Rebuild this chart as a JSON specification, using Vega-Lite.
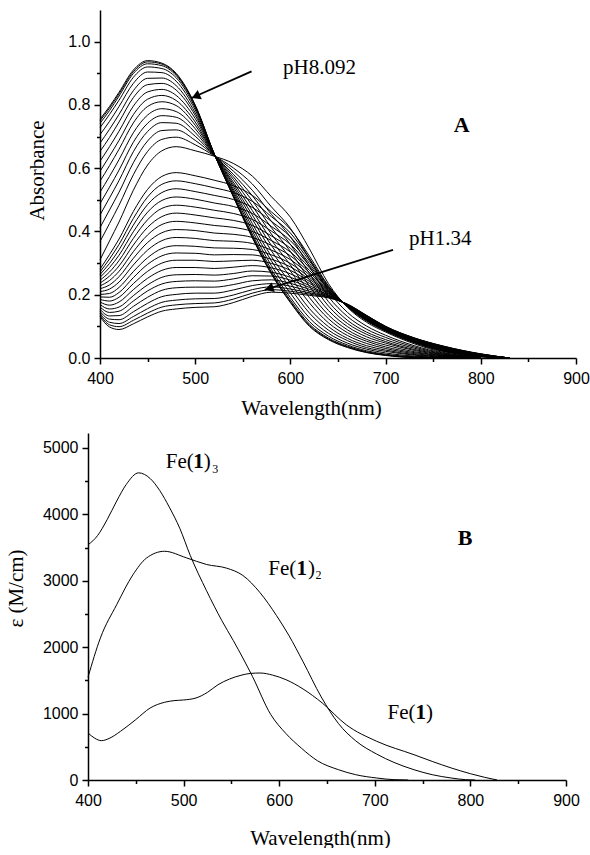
{
"$schema": "https://vega.github.io/schema/vega-lite/v6.json",
"background": "white",
"padding": {"left": 5, "top": 10, "right": 0, "bottom": 0},
"spacing": 15,
"config": {
  "view": {"stroke": null},
  "axis": {"domainColor": "black", "domainWidth": 1.5, "tickColor": "black", "tickWidth": 1.5, "labelFont": "Liberation Sans", "labelFontSize": 16, "labelColor": "black", "titleFont": "Liberation Serif", "titleFontSize": 21, "titleFontWeight": "normal", "titleColor": "black", "grid": false, "labelFlush": false, "labelOverlap": false, "labelPadding": 4},
  "text": {"font": "Liberation Serif", "fontSize": 21, "color": "black"}
},
"datasets": {
"spec": [
{"c":"t0","w":400,"a":0.755},{"c":"t0","w":410,"a":0.795},{"c":"t0","w":420,"a":0.840},{"c":"t0","w":435,"a":0.910},{"c":"t0","w":450,"a":0.940},{"c":"t0","w":465,"a":0.932},{"c":"t0","w":480,"a":0.900},{"c":"t0","w":500,"a":0.800},{"c":"t0","w":520,"a":0.645},{"c":"t0","w":540,"a":0.510},{"c":"t0","w":560,"a":0.380},{"c":"t0","w":580,"a":0.265},{"c":"t0","w":600,"a":0.175},{"c":"t0","w":620,"a":0.100},{"c":"t0","w":640,"a":0.058},{"c":"t0","w":660,"a":0.033},{"c":"t0","w":680,"a":0.017},{"c":"t0","w":700,"a":0.008},{"c":"t0","w":730,"a":0.001},{"c":"t0","w":760,"a":0},{"c":"t0","w":800,"a":0},
{"c":"t1","w":400,"a":0.750},{"c":"t1","w":410,"a":0.790},{"c":"t1","w":420,"a":0.835},{"c":"t1","w":435,"a":0.905},{"c":"t1","w":450,"a":0.936},{"c":"t1","w":465,"a":0.929},{"c":"t1","w":480,"a":0.897},{"c":"t1","w":500,"a":0.798},{"c":"t1","w":520,"a":0.645},{"c":"t1","w":540,"a":0.511},{"c":"t1","w":560,"a":0.382},{"c":"t1","w":580,"a":0.268},{"c":"t1","w":600,"a":0.178},{"c":"t1","w":620,"a":0.103},{"c":"t1","w":640,"a":0.060},{"c":"t1","w":660,"a":0.035},{"c":"t1","w":680,"a":0.018},{"c":"t1","w":700,"a":0.009},{"c":"t1","w":730,"a":0.002},{"c":"t1","w":760,"a":0},{"c":"t1","w":800,"a":0},
{"c":"t2","w":400,"a":0.742},{"c":"t2","w":410,"a":0.782},{"c":"t2","w":420,"a":0.828},{"c":"t2","w":435,"a":0.899},{"c":"t2","w":450,"a":0.930},{"c":"t2","w":465,"a":0.924},{"c":"t2","w":480,"a":0.893},{"c":"t2","w":500,"a":0.796},{"c":"t2","w":520,"a":0.645},{"c":"t2","w":540,"a":0.513},{"c":"t2","w":560,"a":0.386},{"c":"t2","w":580,"a":0.272},{"c":"t2","w":600,"a":0.183},{"c":"t2","w":620,"a":0.107},{"c":"t2","w":640,"a":0.063},{"c":"t2","w":660,"a":0.037},{"c":"t2","w":680,"a":0.020},{"c":"t2","w":700,"a":0.010},{"c":"t2","w":730,"a":0.002},{"c":"t2","w":760,"a":0.001},{"c":"t2","w":800,"a":0},
{"c":"t3","w":400,"a":0.728},{"c":"t3","w":410,"a":0.770},{"c":"t3","w":420,"a":0.815},{"c":"t3","w":435,"a":0.887},{"c":"t3","w":450,"a":0.920},{"c":"t3","w":465,"a":0.915},{"c":"t3","w":480,"a":0.886},{"c":"t3","w":500,"a":0.791},{"c":"t3","w":520,"a":0.645},{"c":"t3","w":540,"a":0.516},{"c":"t3","w":560,"a":0.392},{"c":"t3","w":580,"a":0.280},{"c":"t3","w":600,"a":0.191},{"c":"t3","w":620,"a":0.115},{"c":"t3","w":640,"a":0.069},{"c":"t3","w":660,"a":0.041},{"c":"t3","w":680,"a":0.023},{"c":"t3","w":700,"a":0.012},{"c":"t3","w":730,"a":0.004},{"c":"t3","w":760,"a":0.001},{"c":"t3","w":800,"a":0},
{"c":"t4","w":400,"a":0.706},{"c":"t4","w":410,"a":0.748},{"c":"t4","w":420,"a":0.795},{"c":"t4","w":435,"a":0.868},{"c":"t4","w":450,"a":0.904},{"c":"t4","w":465,"a":0.902},{"c":"t4","w":480,"a":0.875},{"c":"t4","w":500,"a":0.784},{"c":"t4","w":520,"a":0.644},{"c":"t4","w":540,"a":0.522},{"c":"t4","w":560,"a":0.402},{"c":"t4","w":580,"a":0.292},{"c":"t4","w":600,"a":0.205},{"c":"t4","w":620,"a":0.127},{"c":"t4","w":640,"a":0.078},{"c":"t4","w":660,"a":0.047},{"c":"t4","w":680,"a":0.028},{"c":"t4","w":700,"a":0.016},{"c":"t4","w":730,"a":0.006},{"c":"t4","w":760,"a":0.002},{"c":"t4","w":800,"a":0},
{"c":"t5","w":400,"a":0.679},{"c":"t5","w":410,"a":0.723},{"c":"t5","w":420,"a":0.770},{"c":"t5","w":435,"a":0.845},{"c":"t5","w":450,"a":0.884},{"c":"t5","w":465,"a":0.885},{"c":"t5","w":480,"a":0.861},{"c":"t5","w":500,"a":0.775},{"c":"t5","w":520,"a":0.644},{"c":"t5","w":540,"a":0.528},{"c":"t5","w":560,"a":0.413},{"c":"t5","w":580,"a":0.307},{"c":"t5","w":600,"a":0.221},{"c":"t5","w":620,"a":0.142},{"c":"t5","w":640,"a":0.088},{"c":"t5","w":660,"a":0.055},{"c":"t5","w":680,"a":0.033},{"c":"t5","w":700,"a":0.021},{"c":"t5","w":730,"a":0.009},{"c":"t5","w":760,"a":0.003},{"c":"t5","w":800,"a":0},
{"c":"t6","w":400,"a":0.653},{"c":"t6","w":410,"a":0.697},{"c":"t6","w":420,"a":0.746},{"c":"t6","w":435,"a":0.823},{"c":"t6","w":450,"a":0.864},{"c":"t6","w":465,"a":0.868},{"c":"t6","w":480,"a":0.847},{"c":"t6","w":500,"a":0.767},{"c":"t6","w":520,"a":0.643},{"c":"t6","w":540,"a":0.534},{"c":"t6","w":560,"a":0.425},{"c":"t6","w":580,"a":0.321},{"c":"t6","w":600,"a":0.237},{"c":"t6","w":620,"a":0.156},{"c":"t6","w":640,"a":0.099},{"c":"t6","w":660,"a":0.062},{"c":"t6","w":680,"a":0.039},{"c":"t6","w":700,"a":0.025},{"c":"t6","w":730,"a":0.011},{"c":"t6","w":760,"a":0.004},{"c":"t6","w":800,"a":0},
{"c":"t7","w":400,"a":0.622},{"c":"t7","w":410,"a":0.668},{"c":"t7","w":420,"a":0.717},{"c":"t7","w":435,"a":0.796},{"c":"t7","w":450,"a":0.841},{"c":"t7","w":465,"a":0.849},{"c":"t7","w":480,"a":0.830},{"c":"t7","w":500,"a":0.757},{"c":"t7","w":520,"a":0.643},{"c":"t7","w":540,"a":0.542},{"c":"t7","w":560,"a":0.439},{"c":"t7","w":580,"a":0.339},{"c":"t7","w":600,"a":0.256},{"c":"t7","w":620,"a":0.174},{"c":"t7","w":640,"a":0.111},{"c":"t7","w":660,"a":0.071},{"c":"t7","w":680,"a":0.046},{"c":"t7","w":700,"a":0.030},{"c":"t7","w":730,"a":0.014},{"c":"t7","w":760,"a":0.005},{"c":"t7","w":800,"a":0.001},
{"c":"t8","w":400,"a":0.590},{"c":"t8","w":410,"a":0.638},{"c":"t8","w":420,"a":0.688},{"c":"t8","w":435,"a":0.769},{"c":"t8","w":450,"a":0.818},{"c":"t8","w":465,"a":0.830},{"c":"t8","w":480,"a":0.814},{"c":"t8","w":500,"a":0.746},{"c":"t8","w":520,"a":0.642},{"c":"t8","w":540,"a":0.549},{"c":"t8","w":560,"a":0.452},{"c":"t8","w":580,"a":0.356},{"c":"t8","w":600,"a":0.275},{"c":"t8","w":620,"a":0.191},{"c":"t8","w":640,"a":0.124},{"c":"t8","w":660,"a":0.080},{"c":"t8","w":680,"a":0.053},{"c":"t8","w":700,"a":0.035},{"c":"t8","w":730,"a":0.017},{"c":"t8","w":760,"a":0.007},{"c":"t8","w":800,"a":0.001},
{"c":"t9","w":400,"a":0.559},{"c":"t9","w":410,"a":0.608},{"c":"t9","w":420,"a":0.660},{"c":"t9","w":435,"a":0.743},{"c":"t9","w":450,"a":0.795},{"c":"t9","w":465,"a":0.810},{"c":"t9","w":480,"a":0.798},{"c":"t9","w":500,"a":0.736},{"c":"t9","w":520,"a":0.642},{"c":"t9","w":540,"a":0.556},{"c":"t9","w":560,"a":0.466},{"c":"t9","w":580,"a":0.373},{"c":"t9","w":600,"a":0.294},{"c":"t9","w":620,"a":0.208},{"c":"t9","w":640,"a":0.136},{"c":"t9","w":660,"a":0.089},{"c":"t9","w":680,"a":0.059},{"c":"t9","w":700,"a":0.041},{"c":"t9","w":730,"a":0.020},{"c":"t9","w":760,"a":0.008},{"c":"t9","w":800,"a":0.001},
{"c":"t10","w":400,"a":0.524},{"c":"t10","w":410,"a":0.574},{"c":"t10","w":420,"a":0.627},{"c":"t10","w":435,"a":0.712},{"c":"t10","w":450,"a":0.768},{"c":"t10","w":465,"a":0.788},{"c":"t10","w":480,"a":0.779},{"c":"t10","w":500,"a":0.725},{"c":"t10","w":520,"a":0.641},{"c":"t10","w":540,"a":0.565},{"c":"t10","w":560,"a":0.481},{"c":"t10","w":580,"a":0.392},{"c":"t10","w":600,"a":0.315},{"c":"t10","w":620,"a":0.227},{"c":"t10","w":640,"a":0.150},{"c":"t10","w":660,"a":0.099},{"c":"t10","w":680,"a":0.067},{"c":"t10","w":700,"a":0.047},{"c":"t10","w":730,"a":0.024},{"c":"t10","w":760,"a":0.009},{"c":"t10","w":800,"a":0.001},
{"c":"t11","w":400,"a":0.488},{"c":"t11","w":410,"a":0.540},{"c":"t11","w":420,"a":0.594},{"c":"t11","w":435,"a":0.682},{"c":"t11","w":450,"a":0.742},{"c":"t11","w":465,"a":0.766},{"c":"t11","w":480,"a":0.761},{"c":"t11","w":500,"a":0.713},{"c":"t11","w":520,"a":0.641},{"c":"t11","w":540,"a":0.573},{"c":"t11","w":560,"a":0.497},{"c":"t11","w":580,"a":0.412},{"c":"t11","w":600,"a":0.337},{"c":"t11","w":620,"a":0.247},{"c":"t11","w":640,"a":0.164},{"c":"t11","w":660,"a":0.109},{"c":"t11","w":680,"a":0.075},{"c":"t11","w":700,"a":0.052},{"c":"t11","w":730,"a":0.027},{"c":"t11","w":760,"a":0.011},{"c":"t11","w":800,"a":0.001},
{"c":"t12","w":400,"a":0.452},{"c":"t12","w":410,"a":0.506},{"c":"t12","w":420,"a":0.561},{"c":"t12","w":435,"a":0.652},{"c":"t12","w":450,"a":0.716},{"c":"t12","w":465,"a":0.744},{"c":"t12","w":480,"a":0.742},{"c":"t12","w":500,"a":0.701},{"c":"t12","w":520,"a":0.640},{"c":"t12","w":540,"a":0.581},{"c":"t12","w":560,"a":0.513},{"c":"t12","w":580,"a":0.432},{"c":"t12","w":600,"a":0.359},{"c":"t12","w":620,"a":0.267},{"c":"t12","w":640,"a":0.178},{"c":"t12","w":660,"a":0.119},{"c":"t12","w":680,"a":0.082},{"c":"t12","w":700,"a":0.058},{"c":"t12","w":730,"a":0.031},{"c":"t12","w":760,"a":0.012},{"c":"t12","w":800,"a":0.001},
{"c":"t13","w":400,"a":0.412},{"c":"t13","w":410,"a":0.468},{"c":"t13","w":420,"a":0.524},{"c":"t13","w":435,"a":0.617},{"c":"t13","w":450,"a":0.686},{"c":"t13","w":465,"a":0.719},{"c":"t13","w":480,"a":0.721},{"c":"t13","w":500,"a":0.688},{"c":"t13","w":520,"a":0.640},{"c":"t13","w":540,"a":0.591},{"c":"t13","w":560,"a":0.530},{"c":"t13","w":580,"a":0.454},{"c":"t13","w":600,"a":0.383},{"c":"t13","w":620,"a":0.289},{"c":"t13","w":640,"a":0.194},{"c":"t13","w":660,"a":0.131},{"c":"t13","w":680,"a":0.091},{"c":"t13","w":700,"a":0.065},{"c":"t13","w":730,"a":0.035},{"c":"t13","w":760,"a":0.014},{"c":"t13","w":800,"a":0.002},
{"c":"t14","w":400,"a":0.368},{"c":"t14","w":410,"a":0.425},{"c":"t14","w":420,"a":0.483},{"c":"t14","w":435,"a":0.579},{"c":"t14","w":450,"a":0.653},{"c":"t14","w":465,"a":0.691},{"c":"t14","w":480,"a":0.698},{"c":"t14","w":500,"a":0.674},{"c":"t14","w":520,"a":0.639},{"c":"t14","w":540,"a":0.601},{"c":"t14","w":560,"a":0.550},{"c":"t14","w":580,"a":0.478},{"c":"t14","w":600,"a":0.410},{"c":"t14","w":620,"a":0.313},{"c":"t14","w":640,"a":0.212},{"c":"t14","w":660,"a":0.144},{"c":"t14","w":680,"a":0.101},{"c":"t14","w":700,"a":0.072},{"c":"t14","w":730,"a":0.039},{"c":"t14","w":760,"a":0.016},{"c":"t14","w":800,"a":0.002},
{"c":"t15","w":400,"a":0.310},{"c":"t15","w":410,"a":0.370},{"c":"t15","w":420,"a":0.430},{"c":"t15","w":435,"a":0.530},{"c":"t15","w":450,"a":0.610},{"c":"t15","w":465,"a":0.655},{"c":"t15","w":480,"a":0.668},{"c":"t15","w":500,"a":0.655},{"c":"t15","w":520,"a":0.638},{"c":"t15","w":540,"a":0.615},{"c":"t15","w":560,"a":0.575},{"c":"t15","w":580,"a":0.510},{"c":"t15","w":600,"a":0.445},{"c":"t15","w":620,"a":0.345},{"c":"t15","w":640,"a":0.235},{"c":"t15","w":660,"a":0.160},{"c":"t15","w":680,"a":0.113},{"c":"t15","w":700,"a":0.082},{"c":"t15","w":730,"a":0.045},{"c":"t15","w":760,"a":0.018},{"c":"t15","w":800,"a":0.002},
{"c":"b0","w":400,"a":0.281},{"c":"b0","w":410,"a":0.327},{"c":"b0","w":420,"a":0.376},{"c":"b0","w":435,"a":0.463},{"c":"b0","w":450,"a":0.533},{"c":"b0","w":465,"a":0.574},{"c":"b0","w":480,"a":0.586},{"c":"b0","w":500,"a":0.576},{"c":"b0","w":520,"a":0.562},{"c":"b0","w":540,"a":0.545},{"c":"b0","w":560,"a":0.514},{"c":"b0","w":580,"a":0.462},{"c":"b0","w":600,"a":0.407},{"c":"b0","w":620,"a":0.322},{"c":"b0","w":640,"a":0.228},{"c":"b0","w":660,"a":0.162},{"c":"b0","w":680,"a":0.117},{"c":"b0","w":700,"a":0.085},{"c":"b0","w":730,"a":0.048},{"c":"b0","w":760,"a":0.021},{"c":"b0","w":800,"a":0.004},{"c":"b0","w":830,"a":0},
{"c":"b1","w":400,"a":0.272},{"c":"b1","w":410,"a":0.313},{"c":"b1","w":420,"a":0.359},{"c":"b1","w":435,"a":0.441},{"c":"b1","w":450,"a":0.509},{"c":"b1","w":465,"a":0.549},{"c":"b1","w":480,"a":0.560},{"c":"b1","w":500,"a":0.551},{"c":"b1","w":520,"a":0.538},{"c":"b1","w":540,"a":0.523},{"c":"b1","w":560,"a":0.495},{"c":"b1","w":580,"a":0.447},{"c":"b1","w":600,"a":0.395},{"c":"b1","w":620,"a":0.314},{"c":"b1","w":640,"a":0.226},{"c":"b1","w":660,"a":0.162},{"c":"b1","w":680,"a":0.118},{"c":"b1","w":700,"a":0.086},{"c":"b1","w":730,"a":0.049},{"c":"b1","w":760,"a":0.022},{"c":"b1","w":800,"a":0.004},{"c":"b1","w":830,"a":0},
{"c":"b2","w":400,"a":0.264},{"c":"b2","w":410,"a":0.299},{"c":"b2","w":420,"a":0.342},{"c":"b2","w":435,"a":0.420},{"c":"b2","w":450,"a":0.485},{"c":"b2","w":465,"a":0.523},{"c":"b2","w":480,"a":0.535},{"c":"b2","w":500,"a":0.526},{"c":"b2","w":520,"a":0.514},{"c":"b2","w":540,"a":0.501},{"c":"b2","w":560,"a":0.476},{"c":"b2","w":580,"a":0.432},{"c":"b2","w":600,"a":0.383},{"c":"b2","w":620,"a":0.307},{"c":"b2","w":640,"a":0.223},{"c":"b2","w":660,"a":0.163},{"c":"b2","w":680,"a":0.119},{"c":"b2","w":700,"a":0.087},{"c":"b2","w":730,"a":0.050},{"c":"b2","w":760,"a":0.023},{"c":"b2","w":800,"a":0.005},{"c":"b2","w":830,"a":0},
{"c":"b3","w":400,"a":0.255},{"c":"b3","w":410,"a":0.286},{"c":"b3","w":420,"a":0.325},{"c":"b3","w":435,"a":0.399},{"c":"b3","w":450,"a":0.461},{"c":"b3","w":465,"a":0.498},{"c":"b3","w":480,"a":0.509},{"c":"b3","w":500,"a":0.502},{"c":"b3","w":520,"a":0.490},{"c":"b3","w":540,"a":0.479},{"c":"b3","w":560,"a":0.457},{"c":"b3","w":580,"a":0.416},{"c":"b3","w":600,"a":0.371},{"c":"b3","w":620,"a":0.299},{"c":"b3","w":640,"a":0.221},{"c":"b3","w":660,"a":0.163},{"c":"b3","w":680,"a":0.120},{"c":"b3","w":700,"a":0.088},{"c":"b3","w":730,"a":0.051},{"c":"b3","w":760,"a":0.024},{"c":"b3","w":800,"a":0.005},{"c":"b3","w":830,"a":0},
{"c":"b4","w":400,"a":0.246},{"c":"b4","w":410,"a":0.272},{"c":"b4","w":420,"a":0.308},{"c":"b4","w":435,"a":0.378},{"c":"b4","w":450,"a":0.437},{"c":"b4","w":465,"a":0.473},{"c":"b4","w":480,"a":0.483},{"c":"b4","w":500,"a":0.477},{"c":"b4","w":520,"a":0.467},{"c":"b4","w":540,"a":0.457},{"c":"b4","w":560,"a":0.438},{"c":"b4","w":580,"a":0.401},{"c":"b4","w":600,"a":0.359},{"c":"b4","w":620,"a":0.292},{"c":"b4","w":640,"a":0.219},{"c":"b4","w":660,"a":0.164},{"c":"b4","w":680,"a":0.121},{"c":"b4","w":700,"a":0.089},{"c":"b4","w":730,"a":0.052},{"c":"b4","w":760,"a":0.025},{"c":"b4","w":800,"a":0.006},{"c":"b4","w":830,"a":0},
{"c":"b5","w":400,"a":0.237},{"c":"b5","w":410,"a":0.259},{"c":"b5","w":420,"a":0.291},{"c":"b5","w":435,"a":0.357},{"c":"b5","w":450,"a":0.413},{"c":"b5","w":465,"a":0.447},{"c":"b5","w":480,"a":0.458},{"c":"b5","w":500,"a":0.452},{"c":"b5","w":520,"a":0.443},{"c":"b5","w":540,"a":0.435},{"c":"b5","w":560,"a":0.419},{"c":"b5","w":580,"a":0.386},{"c":"b5","w":600,"a":0.347},{"c":"b5","w":620,"a":0.285},{"c":"b5","w":640,"a":0.217},{"c":"b5","w":660,"a":0.164},{"c":"b5","w":680,"a":0.122},{"c":"b5","w":700,"a":0.089},{"c":"b5","w":730,"a":0.053},{"c":"b5","w":760,"a":0.026},{"c":"b5","w":800,"a":0.006},{"c":"b5","w":830,"a":0},
{"c":"b6","w":400,"a":0.228},{"c":"b6","w":410,"a":0.245},{"c":"b6","w":420,"a":0.274},{"c":"b6","w":435,"a":0.336},{"c":"b6","w":450,"a":0.389},{"c":"b6","w":465,"a":0.422},{"c":"b6","w":480,"a":0.432},{"c":"b6","w":500,"a":0.427},{"c":"b6","w":520,"a":0.419},{"c":"b6","w":540,"a":0.413},{"c":"b6","w":560,"a":0.400},{"c":"b6","w":580,"a":0.371},{"c":"b6","w":600,"a":0.335},{"c":"b6","w":620,"a":0.277},{"c":"b6","w":640,"a":0.214},{"c":"b6","w":660,"a":0.165},{"c":"b6","w":680,"a":0.123},{"c":"b6","w":700,"a":0.090},{"c":"b6","w":730,"a":0.054},{"c":"b6","w":760,"a":0.027},{"c":"b6","w":800,"a":0.007},{"c":"b6","w":830,"a":0},
{"c":"b7","w":400,"a":0.219},{"c":"b7","w":410,"a":0.231},{"c":"b7","w":420,"a":0.257},{"c":"b7","w":435,"a":0.315},{"c":"b7","w":450,"a":0.365},{"c":"b7","w":465,"a":0.396},{"c":"b7","w":480,"a":0.406},{"c":"b7","w":500,"a":0.403},{"c":"b7","w":520,"a":0.395},{"c":"b7","w":540,"a":0.391},{"c":"b7","w":560,"a":0.381},{"c":"b7","w":580,"a":0.356},{"c":"b7","w":600,"a":0.323},{"c":"b7","w":620,"a":0.270},{"c":"b7","w":640,"a":0.212},{"c":"b7","w":660,"a":0.165},{"c":"b7","w":680,"a":0.124},{"c":"b7","w":700,"a":0.091},{"c":"b7","w":730,"a":0.055},{"c":"b7","w":760,"a":0.028},{"c":"b7","w":800,"a":0.008},{"c":"b7","w":830,"a":0},
{"c":"b8","w":400,"a":0.210},{"c":"b8","w":410,"a":0.218},{"c":"b8","w":420,"a":0.240},{"c":"b8","w":435,"a":0.294},{"c":"b8","w":450,"a":0.341},{"c":"b8","w":465,"a":0.371},{"c":"b8","w":480,"a":0.381},{"c":"b8","w":500,"a":0.378},{"c":"b8","w":520,"a":0.371},{"c":"b8","w":540,"a":0.369},{"c":"b8","w":560,"a":0.362},{"c":"b8","w":580,"a":0.341},{"c":"b8","w":600,"a":0.311},{"c":"b8","w":620,"a":0.263},{"c":"b8","w":640,"a":0.210},{"c":"b8","w":660,"a":0.166},{"c":"b8","w":680,"a":0.125},{"c":"b8","w":700,"a":0.092},{"c":"b8","w":730,"a":0.056},{"c":"b8","w":760,"a":0.029},{"c":"b8","w":800,"a":0.008},{"c":"b8","w":830,"a":0},
{"c":"b9","w":400,"a":0.201},{"c":"b9","w":410,"a":0.204},{"c":"b9","w":420,"a":0.223},{"c":"b9","w":435,"a":0.273},{"c":"b9","w":450,"a":0.317},{"c":"b9","w":465,"a":0.346},{"c":"b9","w":480,"a":0.355},{"c":"b9","w":500,"a":0.353},{"c":"b9","w":520,"a":0.348},{"c":"b9","w":540,"a":0.347},{"c":"b9","w":560,"a":0.343},{"c":"b9","w":580,"a":0.326},{"c":"b9","w":600,"a":0.299},{"c":"b9","w":620,"a":0.255},{"c":"b9","w":640,"a":0.208},{"c":"b9","w":660,"a":0.166},{"c":"b9","w":680,"a":0.126},{"c":"b9","w":700,"a":0.093},{"c":"b9","w":730,"a":0.057},{"c":"b9","w":760,"a":0.030},{"c":"b9","w":800,"a":0.009},{"c":"b9","w":830,"a":0},
{"c":"b10","w":400,"a":0.193},{"c":"b10","w":410,"a":0.192},{"c":"b10","w":420,"a":0.207},{"c":"b10","w":435,"a":0.254},{"c":"b10","w":450,"a":0.296},{"c":"b10","w":465,"a":0.323},{"c":"b10","w":480,"a":0.332},{"c":"b10","w":500,"a":0.331},{"c":"b10","w":520,"a":0.326},{"c":"b10","w":540,"a":0.327},{"c":"b10","w":560,"a":0.326},{"c":"b10","w":580,"a":0.312},{"c":"b10","w":600,"a":0.288},{"c":"b10","w":620,"a":0.249},{"c":"b10","w":640,"a":0.206},{"c":"b10","w":660,"a":0.167},{"c":"b10","w":680,"a":0.127},{"c":"b10","w":700,"a":0.094},{"c":"b10","w":730,"a":0.057},{"c":"b10","w":760,"a":0.031},{"c":"b10","w":800,"a":0.009},{"c":"b10","w":830,"a":0},
{"c":"b11","w":400,"a":0.185},{"c":"b11","w":410,"a":0.180},{"c":"b11","w":420,"a":0.192},{"c":"b11","w":435,"a":0.235},{"c":"b11","w":450,"a":0.274},{"c":"b11","w":465,"a":0.300},{"c":"b11","w":480,"a":0.309},{"c":"b11","w":500,"a":0.309},{"c":"b11","w":520,"a":0.305},{"c":"b11","w":540,"a":0.307},{"c":"b11","w":560,"a":0.309},{"c":"b11","w":580,"a":0.299},{"c":"b11","w":600,"a":0.277},{"c":"b11","w":620,"a":0.242},{"c":"b11","w":640,"a":0.204},{"c":"b11","w":660,"a":0.167},{"c":"b11","w":680,"a":0.128},{"c":"b11","w":700,"a":0.095},{"c":"b11","w":730,"a":0.058},{"c":"b11","w":760,"a":0.032},{"c":"b11","w":800,"a":0.010},{"c":"b11","w":830,"a":0},
{"c":"b12","w":400,"a":0.177},{"c":"b12","w":410,"a":0.167},{"c":"b12","w":420,"a":0.177},{"c":"b12","w":435,"a":0.216},{"c":"b12","w":450,"a":0.252},{"c":"b12","w":465,"a":0.277},{"c":"b12","w":480,"a":0.286},{"c":"b12","w":500,"a":0.286},{"c":"b12","w":520,"a":0.283},{"c":"b12","w":540,"a":0.287},{"c":"b12","w":560,"a":0.292},{"c":"b12","w":580,"a":0.285},{"c":"b12","w":600,"a":0.266},{"c":"b12","w":620,"a":0.236},{"c":"b12","w":640,"a":0.202},{"c":"b12","w":660,"a":0.167},{"c":"b12","w":680,"a":0.129},{"c":"b12","w":700,"a":0.095},{"c":"b12","w":730,"a":0.059},{"c":"b12","w":760,"a":0.033},{"c":"b12","w":800,"a":0.010},{"c":"b12","w":830,"a":0},
{"c":"b13","w":400,"a":0.169},{"c":"b13","w":410,"a":0.155},{"c":"b13","w":420,"a":0.161},{"c":"b13","w":435,"a":0.197},{"c":"b13","w":450,"a":0.231},{"c":"b13","w":465,"a":0.255},{"c":"b13","w":480,"a":0.263},{"c":"b13","w":500,"a":0.264},{"c":"b13","w":520,"a":0.262},{"c":"b13","w":540,"a":0.267},{"c":"b13","w":560,"a":0.275},{"c":"b13","w":580,"a":0.271},{"c":"b13","w":600,"a":0.255},{"c":"b13","w":620,"a":0.229},{"c":"b13","w":640,"a":0.199},{"c":"b13","w":660,"a":0.168},{"c":"b13","w":680,"a":0.130},{"c":"b13","w":700,"a":0.096},{"c":"b13","w":730,"a":0.060},{"c":"b13","w":760,"a":0.034},{"c":"b13","w":800,"a":0.011},{"c":"b13","w":830,"a":0},
{"c":"b14","w":400,"a":0.161},{"c":"b14","w":410,"a":0.144},{"c":"b14","w":420,"a":0.148},{"c":"b14","w":435,"a":0.180},{"c":"b14","w":450,"a":0.212},{"c":"b14","w":465,"a":0.234},{"c":"b14","w":480,"a":0.242},{"c":"b14","w":500,"a":0.244},{"c":"b14","w":520,"a":0.243},{"c":"b14","w":540,"a":0.250},{"c":"b14","w":560,"a":0.260},{"c":"b14","w":580,"a":0.259},{"c":"b14","w":600,"a":0.246},{"c":"b14","w":620,"a":0.223},{"c":"b14","w":640,"a":0.198},{"c":"b14","w":660,"a":0.168},{"c":"b14","w":680,"a":0.131},{"c":"b14","w":700,"a":0.097},{"c":"b14","w":730,"a":0.061},{"c":"b14","w":760,"a":0.035},{"c":"b14","w":800,"a":0.011},{"c":"b14","w":830,"a":0},
{"c":"b15","w":400,"a":0.154},{"c":"b15","w":410,"a":0.133},{"c":"b15","w":420,"a":0.134},{"c":"b15","w":435,"a":0.163},{"c":"b15","w":450,"a":0.192},{"c":"b15","w":465,"a":0.214},{"c":"b15","w":480,"a":0.222},{"c":"b15","w":500,"a":0.224},{"c":"b15","w":520,"a":0.224},{"c":"b15","w":540,"a":0.232},{"c":"b15","w":560,"a":0.244},{"c":"b15","w":580,"a":0.247},{"c":"b15","w":600,"a":0.236},{"c":"b15","w":620,"a":0.217},{"c":"b15","w":640,"a":0.196},{"c":"b15","w":660,"a":0.169},{"c":"b15","w":680,"a":0.132},{"c":"b15","w":700,"a":0.098},{"c":"b15","w":730,"a":0.061},{"c":"b15","w":760,"a":0.035},{"c":"b15","w":800,"a":0.012},{"c":"b15","w":830,"a":0},
{"c":"b16","w":400,"a":0.147},{"c":"b16","w":410,"a":0.123},{"c":"b16","w":420,"a":0.121},{"c":"b16","w":435,"a":0.146},{"c":"b16","w":450,"a":0.173},{"c":"b16","w":465,"a":0.194},{"c":"b16","w":480,"a":0.201},{"c":"b16","w":500,"a":0.205},{"c":"b16","w":520,"a":0.205},{"c":"b16","w":540,"a":0.215},{"c":"b16","w":560,"a":0.229},{"c":"b16","w":580,"a":0.235},{"c":"b16","w":600,"a":0.227},{"c":"b16","w":620,"a":0.211},{"c":"b16","w":640,"a":0.194},{"c":"b16","w":660,"a":0.169},{"c":"b16","w":680,"a":0.133},{"c":"b16","w":700,"a":0.098},{"c":"b16","w":730,"a":0.062},{"c":"b16","w":760,"a":0.036},{"c":"b16","w":800,"a":0.012},{"c":"b16","w":830,"a":0},
{"c":"b17","w":400,"a":0.141},{"c":"b17","w":410,"a":0.113},{"c":"b17","w":420,"a":0.109},{"c":"b17","w":435,"a":0.131},{"c":"b17","w":450,"a":0.156},{"c":"b17","w":465,"a":0.176},{"c":"b17","w":480,"a":0.183},{"c":"b17","w":500,"a":0.187},{"c":"b17","w":520,"a":0.188},{"c":"b17","w":540,"a":0.199},{"c":"b17","w":560,"a":0.216},{"c":"b17","w":580,"a":0.225},{"c":"b17","w":600,"a":0.218},{"c":"b17","w":620,"a":0.206},{"c":"b17","w":640,"a":0.193},{"c":"b17","w":660,"a":0.169},{"c":"b17","w":680,"a":0.134},{"c":"b17","w":700,"a":0.099},{"c":"b17","w":730,"a":0.063},{"c":"b17","w":760,"a":0.037},{"c":"b17","w":800,"a":0.012},{"c":"b17","w":830,"a":0},
{"c":"b18","w":400,"a":0.136},{"c":"b18","w":410,"a":0.105},{"c":"b18","w":420,"a":0.099},{"c":"b18","w":435,"a":0.119},{"c":"b18","w":450,"a":0.142},{"c":"b18","w":465,"a":0.161},{"c":"b18","w":480,"a":0.168},{"c":"b18","w":500,"a":0.172},{"c":"b18","w":520,"a":0.174},{"c":"b18","w":540,"a":0.186},{"c":"b18","w":560,"a":0.205},{"c":"b18","w":580,"a":0.216},{"c":"b18","w":600,"a":0.211},{"c":"b18","w":620,"a":0.202},{"c":"b18","w":640,"a":0.191},{"c":"b18","w":660,"a":0.170},{"c":"b18","w":680,"a":0.134},{"c":"b18","w":700,"a":0.100},{"c":"b18","w":730,"a":0.063},{"c":"b18","w":760,"a":0.038},{"c":"b18","w":800,"a":0.013},{"c":"b18","w":830,"a":0},
{"c":"b19","w":400,"a":0.131},{"c":"b19","w":410,"a":0.098},{"c":"b19","w":420,"a":0.090},{"c":"b19","w":435,"a":0.108},{"c":"b19","w":450,"a":0.130},{"c":"b19","w":465,"a":0.148},{"c":"b19","w":480,"a":0.155},{"c":"b19","w":500,"a":0.160},{"c":"b19","w":520,"a":0.162},{"c":"b19","w":540,"a":0.175},{"c":"b19","w":560,"a":0.195},{"c":"b19","w":580,"a":0.208},{"c":"b19","w":600,"a":0.205},{"c":"b19","w":620,"a":0.198},{"c":"b19","w":640,"a":0.190},{"c":"b19","w":660,"a":0.170},{"c":"b19","w":680,"a":0.135},{"c":"b19","w":700,"a":0.100},{"c":"b19","w":730,"a":0.064},{"c":"b19","w":760,"a":0.038},{"c":"b19","w":800,"a":0.013},{"c":"b19","w":830,"a":0}
],
"eps": [
{"s":"F3","w":400,"e":3540},{"s":"F3","w":410,"e":3680},{"s":"F3","w":420,"e":3920},{"s":"F3","w":430,"e":4200},{"s":"F3","w":440,"e":4450},{"s":"F3","w":453,"e":4625},{"s":"F3","w":465,"e":4540},{"s":"F3","w":475,"e":4360},{"s":"F3","w":485,"e":4110},{"s":"F3","w":496,"e":3790},{"s":"F3","w":507,"e":3380},{"s":"F3","w":524,"e":2850},{"s":"F3","w":540,"e":2400},{"s":"F3","w":552,"e":2100},{"s":"F3","w":572,"e":1560},{"s":"F3","w":591,"e":990},{"s":"F3","w":607,"e":700},{"s":"F3","w":623,"e":482},{"s":"F3","w":640,"e":290},{"s":"F3","w":662,"e":155},{"s":"F3","w":680,"e":80},{"s":"F3","w":702,"e":30},{"s":"F3","w":720,"e":5},{"s":"F3","w":735,"e":0},
{"s":"F2","w":400,"e":1547},{"s":"F2","w":413,"e":2140},{"s":"F2","w":430,"e":2640},{"s":"F2","w":447,"e":3090},{"s":"F2","w":461,"e":3340},{"s":"F2","w":480,"e":3444},{"s":"F2","w":503,"e":3345},{"s":"F2","w":524,"e":3245},{"s":"F2","w":545,"e":3190},{"s":"F2","w":562,"e":3080},{"s":"F2","w":580,"e":2820},{"s":"F2","w":597,"e":2480},{"s":"F2","w":610,"e":2180},{"s":"F2","w":625,"e":1780},{"s":"F2","w":644,"e":1250},{"s":"F2","w":662,"e":850},{"s":"F2","w":680,"e":590},{"s":"F2","w":702,"e":390},{"s":"F2","w":720,"e":265},{"s":"F2","w":741,"e":155},{"s":"F2","w":760,"e":80},{"s":"F2","w":780,"e":30},{"s":"F2","w":795,"e":5},{"s":"F2","w":805,"e":0},
{"s":"F1","w":400,"e":708},{"s":"F1","w":407,"e":630},{"s":"F1","w":414,"e":592},{"s":"F1","w":422,"e":625},{"s":"F1","w":434,"e":733},{"s":"F1","w":450,"e":910},{"s":"F1","w":465,"e":1084},{"s":"F1","w":480,"e":1170},{"s":"F1","w":490,"e":1195},{"s":"F1","w":500,"e":1205},{"s":"F1","w":513,"e":1235},{"s":"F1","w":525,"e":1320},{"s":"F1","w":536,"e":1435},{"s":"F1","w":548,"e":1520},{"s":"F1","w":560,"e":1577},{"s":"F1","w":570,"e":1605},{"s":"F1","w":580,"e":1611},{"s":"F1","w":593,"e":1580},{"s":"F1","w":607,"e":1511},{"s":"F1","w":625,"e":1370},{"s":"F1","w":645,"e":1160},{"s":"F1","w":670,"e":833},{"s":"F1","w":702,"e":583},{"s":"F1","w":741,"e":381},{"s":"F1","w":760,"e":280},{"s":"F1","w":780,"e":181},{"s":"F1","w":800,"e":95},{"s":"F1","w":815,"e":40},{"s":"F1","w":828,"e":0}
]
},
"vconcat": [
{
  "width": 488, "height": 348,
  "encoding": {
    "x": {"field": "w", "type": "quantitative", "scale": {"domain": [400, 900], "range": [12, 488], "nice": false, "zero": false},
      "axis": {"title": "Wavelength(nm)", "values": [400,450,500,550,600,650,700,750,800,850,900], "labelExpr": "datum.value % 100 === 0 ? datum.label : ''", "tickSize": {"condition": {"test": "datum.value % 100 === 0", "value": 6}, "value": 3.5}, "labelPadding": 6, "titleX": 223, "titleY": 56, "titleBaseline": "alphabetic", "titleAlign": "center"}},
    "y": {"field": "a", "type": "quantitative", "scale": {"domain": [0, 1.1], "nice": false, "zero": false},
      "axis": {"title": "Absorbance", "offset": -12, "values": [0,0.1,0.2,0.3,0.4,0.5,0.6,0.7,0.8,0.9,1.0], "labelExpr": "round(datum.value*10) % 2 === 0 ? format(datum.value, '.1f') : ''", "tickSize": {"condition": {"test": "round(datum.value*10) % 2 === 0", "value": 6}, "value": 3.5}, "titleX": -53, "titleY": 160, "titleAngle": 270, "titleBaseline": "bottom", "titleAlign": "center"}}
  },
  "layer": [
    {"data": {"name": "spec"}, "mark": {"type": "line", "interpolate": "monotone", "color": "black", "strokeWidth": 1}, "encoding": {"detail": {"field": "c", "type": "nominal"}}},
    {"data": {"values": [{"k":"a1","w":559.2,"a":0.906},{"k":"a1","w":496.2,"a":0.822},{"k":"a2","w":707.8,"a":0.342},{"k":"a2","w":573.1,"a":0.215}]}, "mark": {"type": "line", "color": "black", "strokeWidth": 1.8}, "encoding": {"detail": {"field": "k", "type": "nominal"}}},
    {"data": {"values": [{"w":502.0,"a":0.829}]}, "mark": {"type": "point", "shape": "triangle", "filled": true, "color": "black", "opacity": 1, "size": 100, "angle": 246}},
    {"data": {"values": [{"w":579.1,"a":0.221}]}, "mark": {"type": "point", "shape": "triangle", "filled": true, "color": "black", "opacity": 1, "size": 100, "angle": 253}},
    {"data": {"values": [{"w":592.3,"a":0.899,"t":"pH8.092"},{"w":724.6,"a":0.358,"t":"pH1.34"}]}, "mark": {"type": "text", "align": "left", "baseline": "alphabetic", "fontSize": 21}, "encoding": {"text": {"field": "t"}}},
    {"data": {"values": [{"w":780,"a":0.714,"t":"A"}]}, "mark": {"type": "text", "align": "center", "baseline": "alphabetic", "fontSize": 22, "fontWeight": "bold"}, "encoding": {"text": {"field": "t"}}}
  ]
},
{
  "width": 478, "height": 347,
  "encoding": {
    "x": {"field": "w", "type": "quantitative", "scale": {"domain": [400, 900], "nice": false, "zero": false},
      "axis": {"title": "Wavelength(nm)", "values": [400,450,500,550,600,650,700,750,800,850,900], "labelExpr": "datum.value % 100 === 0 ? datum.label : ''", "tickSize": {"condition": {"test": "datum.value % 100 === 0", "value": 6}, "value": 3.5}, "labelPadding": 6, "titleX": 232, "titleY": 64, "titleBaseline": "alphabetic", "titleAlign": "center"}},
    "y": {"field": "e", "type": "quantitative", "scale": {"domain": [0, 5225], "nice": false, "zero": false},
      "axis": {"title": "ε (M/cm)", "format": "d", "values": [0,500,1000,1500,2000,2500,3000,3500,4000,4500,5000], "labelExpr": "datum.value % 1000 === 0 ? format(datum.value, 'd') : ''", "tickSize": {"condition": {"test": "datum.value % 1000 === 0", "value": 6}, "value": 3.5}, "titleX": -62, "titleY": 155, "titleAngle": 270, "titleBaseline": "bottom", "titleAlign": "center"}}
  },
  "layer": [
    {"data": {"name": "eps"}, "mark": {"type": "line", "interpolate": "monotone", "color": "black", "strokeWidth": 1}, "encoding": {"detail": {"field": "s", "type": "nominal"}}},
    {"data": {"values": [{"w":481.3,"e":4699,"t":"Fe("},{"w":521,"e":4699,"t":")"},{"w":588.6,"e":3087,"t":"Fe("},{"w":630,"e":3087,"t":")"},{"w":713.4,"e":919,"t":"Fe("},{"w":753.5,"e":919,"t":")"}]}, "mark": {"type": "text", "align": "left", "baseline": "alphabetic", "fontSize": 21}, "encoding": {"text": {"field": "t"}}},
    {"data": {"values": [{"w":510,"e":4699,"t":"1"},{"w":618,"e":3087,"t":"1"},{"w":742.5,"e":919,"t":"1"}]}, "mark": {"type": "text", "align": "left", "baseline": "alphabetic", "fontSize": 21, "fontWeight": "bold"}, "encoding": {"text": {"field": "t"}}},
    {"data": {"values": [{"w":530,"e":4623,"t":"3"},{"w":638,"e":3020,"t":"2"}]}, "mark": {"type": "text", "align": "left", "baseline": "alphabetic", "fontSize": 12}, "encoding": {"text": {"field": "t"}}},
    {"data": {"values": [{"w":794.4,"e":3645,"t":"B"}]}, "mark": {"type": "text", "align": "center", "baseline": "middle", "fontSize": 22, "fontWeight": "bold"}, "encoding": {"text": {"field": "t"}}}
  ]
}
]
}
